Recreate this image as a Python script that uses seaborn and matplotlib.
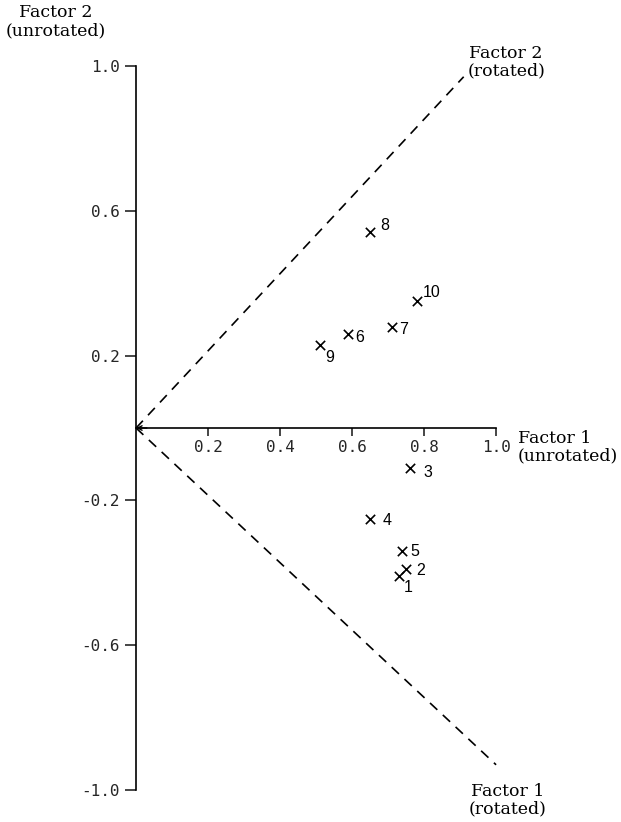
import matplotlib
matplotlib.use("Agg")
import matplotlib.pyplot as plt
import seaborn as sns
import pandas as pd

# Variable loadings on the two unrotated factors
variables = ["1", "2", "3", "4", "5", "6", "7", "8", "9", "10"]
factor1 = [0.73, 0.75, 0.76, 0.65, 0.74, 0.59, 0.71, 0.65, 0.51, 0.78]
factor2 = [-0.41, -0.39, -0.11, -0.25, -0.34, 0.26, 0.28, 0.54, 0.23, 0.35]

# Rotated factor axes (from the origin to these end points)
rot_f2_x = [0.0, 0.91]
rot_f2_y = [0.0, 0.97]
rot_f1_x = [0.0, 1.0]
rot_f1_y = [0.0, -0.93]

y_ticks = [-1.0, -0.6, -0.2, 0.2, 0.6, 1.0]
y_tick_labels = ["-1.0", "-0.6", "-0.2", "0.2", "0.6", "1.0"]
x_ticks = [0.2, 0.4, 0.6, 0.8, 1.0]
x_tick_labels = ["0.2", "0.4", "0.6", "0.8", "1.0"]

# label offsets in pixels (dx, dy) relative to each point
label_offsets = {
    "1": (9, -11), "2": (15, -1), "3": (18, -5), "4": (17, -2), "5": (12, 0),
    "6": (11, -4), "7": (12, -3), "8": (15, 7), "9": (10, -13), "10": (15, 9),
}

sns.set_style("white")
plt.rcParams["font.family"] = ["DejaVu Sans"]

df = pd.DataFrame({"var": variables, "f1": factor1, "f2": factor2})

fig = plt.figure(figsize=(6.21, 8.22), dpi=100)
ax = fig.add_axes([0, 0, 1, 1])
ax.set_xlim(-0.378, 1.347)
ax.set_ylim(-1.088, 1.182)

# rotated axes as dashed lines
dash = dict(color="black", linewidth=1.2, linestyle=(0, (6, 4.5)))
sns.lineplot(x=rot_f2_x, y=rot_f2_y, ax=ax, **dash)
sns.lineplot(x=rot_f1_x, y=rot_f1_y, ax=ax, **dash)

sns.scatterplot(data=df, x="f1", y="f2", marker="x", color="black",
                s=45, linewidth=1.2, ax=ax, zorder=3)

for v, x, y in zip(variables, factor1, factor2):
    dx, dy = label_offsets[v]
    ax.annotate(v, (x, y), xytext=(dx, dy), textcoords="offset pixels",
                ha="center", va="center", fontsize=11.5,
                family="Liberation Sans", color="black")

# axis spines through the origin
for side in ("top", "right"):
    ax.spines[side].set_visible(False)
ax.spines["left"].set_position(("data", 0))
ax.spines["bottom"].set_position(("data", 0))
ax.spines["left"].set_bounds(-1.0, 1.0)
ax.spines["bottom"].set_bounds(0.0, 1.0)
for side in ("left", "bottom"):
    ax.spines[side].set_linewidth(1.2)
    ax.spines[side].set_color("black")

ax.set_yticks(y_ticks)
ax.set_yticklabels(y_tick_labels)
ax.set_xticks(x_ticks)
ax.set_xticklabels(x_tick_labels)
ax.tick_params(axis="y", direction="out", length=8, width=1.2, pad=3.5,
               labelsize=11.5, left=True)
ax.tick_params(axis="x", direction="out", length=5.5, width=1.2, pad=3,
               labelsize=11.5, bottom=True)
for lab in ax.get_xticklabels() + ax.get_yticklabels():
    lab.set_family("DejaVu Sans Mono")
ax.set_xlabel("")
ax.set_ylabel("")

# small arrow head at the left end of the horizontal axis
ax.annotate("", xy=(0.0, 0.0), xytext=(0.03, 0.0),
            arrowprops=dict(arrowstyle="->", color="black", lw=1.0,
                            mutation_scale=8, shrinkA=0, shrinkB=0))

title_kw = dict(fontsize=12.5, family="DejaVu Serif", color="black",
                linespacing=1.05)
ax.text(-0.222, 1.122, "Factor 2\n(unrotated)", ha="center", va="center",
        **title_kw)
ax.text(1.061, -0.052, "Factor 1\n(unrotated)", ha="left", va="center",
        **title_kw)
ax.text(1.028, 1.011, "Factor 2\n(rotated)", ha="center", va="center",
        **title_kw)
ax.text(1.033, -1.028, "Factor 1\n(rotated)", ha="center", va="center",
        **title_kw)

fig.savefig("out.png", dpi=100, facecolor="white")
